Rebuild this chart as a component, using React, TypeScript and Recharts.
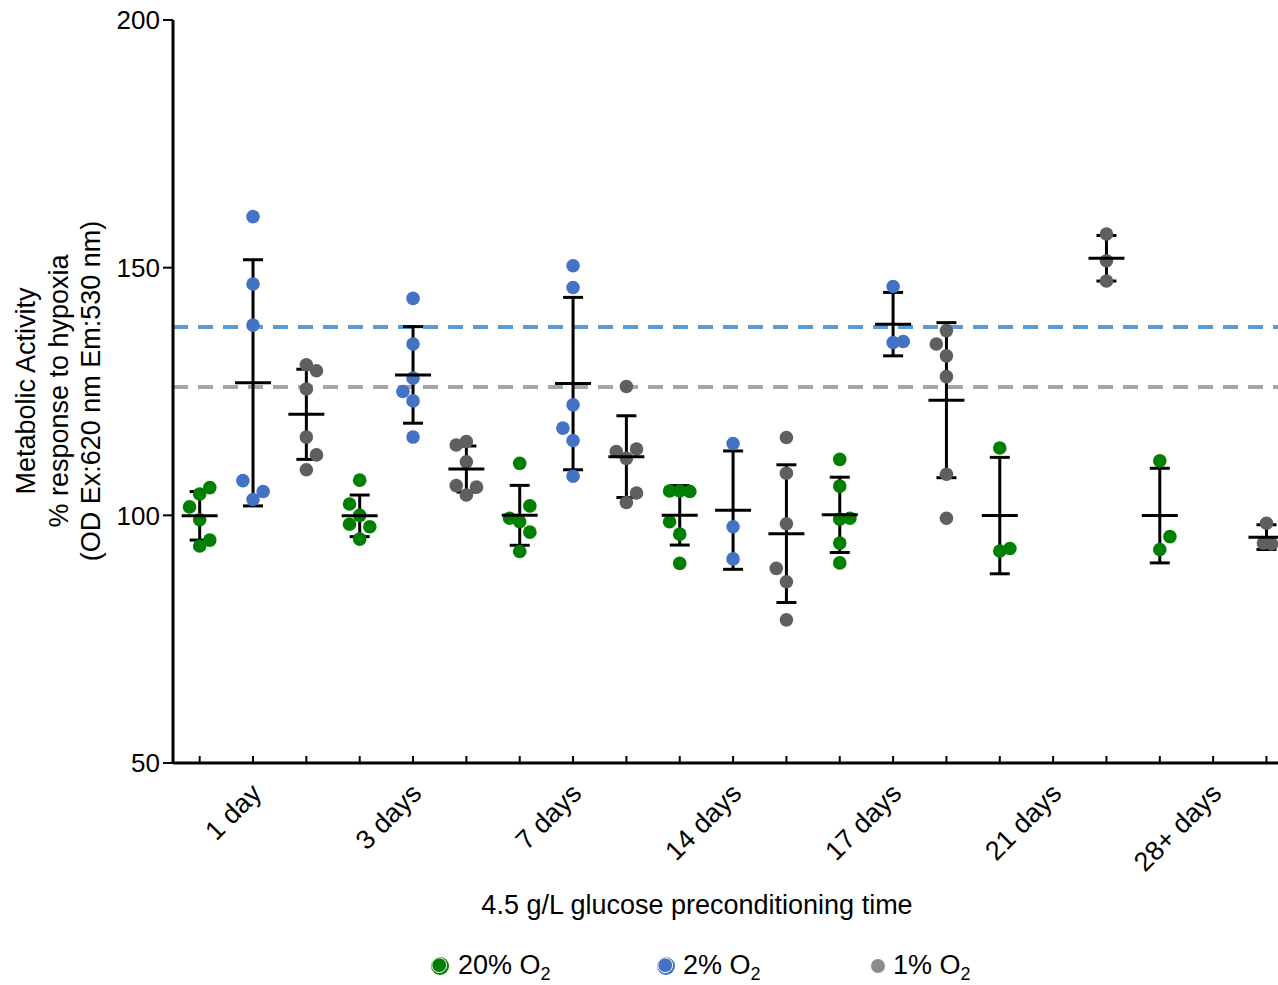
import React from "react";
import {
  ComposedChart,
  Scatter,
  XAxis,
  YAxis,
  ErrorBar,
  ReferenceLine,
  Legend,
  Label,
} from "recharts";

const FONT = "'Liberation Sans', Arial, sans-serif";

const days = ["1 day", "3 days", "7 days", "14 days", "17 days", "21 days", "28+ days"];
const o2Labels = ["20%", "2%", "1%"];
const yTicks = [50, 100, 150, 200];
const slots = Array.from({ length: 21 }, (_, i) => i + 1);

// [day index, swarm column (-1 left, 0 centre, 1 right), value]
const pts20: [number, number, number][] = [
  [0, 0, 104.3], [0, 1, 105.6], [0, -1, 101.7], [0, 0, 99.1], [0, 1, 95.0], [0, 0, 93.8],
  [1, 0, 107.1], [1, -1, 102.3], [1, 0, 100.0], [1, -1, 98.2], [1, 1, 97.7], [1, 0, 95.2],
  [2, 0, 110.5], [2, 1, 101.9], [2, -1, 99.4], [2, 0, 98.7], [2, 1, 96.6], [2, 0, 92.7],
  [3, -1, 104.9], [3, 0, 104.9], [3, 1, 104.8], [3, -1, 98.7], [3, 0, 96.2], [3, 0, 90.3],
  [4, 0, 111.3], [4, 0, 105.9], [4, 0, 99.2], [4, 1, 99.4], [4, 0, 94.4], [4, 0, 90.4],
  [5, 0, 113.6], [5, 0, 92.8], [5, 1, 93.3],
  [6, 0, 111.0], [6, 1, 95.7], [6, 0, 93.1],
];

const pts2: [number, number, number][] = [
  [0, 0, 160.3], [0, 0, 146.7], [0, 0, 138.4], [0, -1, 107.0], [0, 1, 104.8], [0, 0, 103.2],
  [1, 0, 143.8], [1, 0, 134.6], [1, 0, 127.7], [1, -1, 125.0], [1, 0, 123.1], [1, 0, 115.8],
  [2, 0, 150.4], [2, 0, 146.0], [2, 0, 122.3], [2, -1, 117.6], [2, 0, 115.1], [2, 0, 107.9],
  [3, 0, 114.5], [3, 0, 97.7], [3, 0, 91.2],
  [4, 0, 146.2], [4, 0, 134.9], [4, 1, 135.1],
];

const pts1: [number, number, number][] = [
  [0, 0, 130.4], [0, 1, 129.2], [0, 0, 125.5], [0, 0, 115.8], [0, 1, 112.2], [0, 0, 109.2],
  [1, -1, 114.2], [1, 0, 114.9], [1, 0, 110.8], [1, -1, 106.0], [1, 1, 105.7], [1, 0, 104.1],
  [2, 0, 126.0], [2, -1, 112.9], [2, 1, 113.4], [2, 0, 111.5], [2, 1, 104.5], [2, 0, 102.6],
  [3, 0, 115.7], [3, 0, 108.5], [3, 0, 98.3], [3, -1, 89.3], [3, 0, 86.6], [3, 0, 78.9],
  [4, 0, 137.3], [4, -1, 134.6], [4, 0, 132.2], [4, 0, 128.0], [4, 0, 108.3], [4, 0, 99.4],
  [5, 0, 156.8], [5, 0, 151.4], [5, 0, 147.3],
  [6, 0, 98.4], [6, -0.3, 94.4], [6, 0.5, 94.2],
];

// mean and SD per day (null = not measured)
const mean20 = [99.9, 99.9, 100.0, 100.0, 100.1, 99.95, 99.95];
const sd20 = [4.9, 4.2, 6.05, 6.0, 7.6, 11.75, 9.55];
const mean2 = [126.75, 128.35, 126.6, 101.05, 138.6, null, null];
const sd2 = [24.85, 9.75, 17.4, 11.95, 6.4, null, null];
const mean1 = [120.4, 109.35, 111.85, 96.3, 123.25, 151.9, 95.6];
const sd1 = [9.1, 4.65, 8.25, 13.9, 15.65, 4.6, 2.5];

const ref2 = 138.0;
const ref1 = 125.9;

const GREEN = "#008000";
const BLUE = "#4472c4";
const GRAY = "#5f5f5f";

const SPREAD = 0.19;

const toXY = (pts: [number, number, number][], series: number) =>
  pts.map(([d, col, v]) => ({ x: d * 3 + series + col * SPREAD, y: v }));

const toMeans = (means: (number | null)[], sds: (number | null)[], series: number) =>
  means
    .map((m, i) => (m == null ? null : { x: i * 3 + series, y: m, sd: sds[i] }))
    .filter(Boolean) as { x: number; y: number; sd: number }[];

const meanData = [...toMeans(mean20, sd20, 1), ...toMeans(mean2, sd2, 2), ...toMeans(mean1, sd1, 3)];

const dot = (color: string) => (p: any) => <circle cx={p.cx} cy={p.cy} r={6.8} fill={color} />;

const MeanMark = (p: any) => (
  <line x1={p.cx - 18} x2={p.cx + 18} y1={p.cy} y2={p.cy} stroke="#000" strokeWidth={3} />
);

function SlotTick(props: any) {
  const { x, y, payload } = props;
  const slot = payload.value;
  const label = slot % 3 === 2 ? days[(slot - 2) / 3] : null;
  const tx = x + 10;
  const ty = y + 32;
  return (
    <g>
      <line x1={x} x2={x} y1={y} y2={y - 7} stroke="#000" strokeWidth={2} />
      {label && (
        <text
          x={tx}
          y={ty}
          transform={`rotate(-45 ${tx} ${ty})`}
          textAnchor="end"
          fontSize={27}
          fontFamily={FONT}
          fill="#000"
        >
          {label}
        </text>
      )}
    </g>
  );
}

function YTitle() {
  const lines = [
    "Metabolic Activity",
    "% response to hypoxia",
    "(OD Ex:620 nm Em:530 nm)",
  ];
  const xs = [35, 67.5, 100];
  return (
    <g>
      {lines.map((t, i) => (
        <text
          key={t}
          x={xs[i]}
          y={391}
          transform={`rotate(-90 ${xs[i]} 391)`}
          textAnchor="middle"
          fontSize={27}
          fontFamily={FONT}
          fill="#000"
        >
          {t}
        </text>
      ))}
    </g>
  );
}

function XTitle() {
  return (
    <text x={697} y={914} textAnchor="middle" fontSize={27} fontFamily={FONT} fill="#000">
      4.5 g/L glucose preconditioning time
    </text>
  );
}

function LegendBox() {
  const items = [
    { label: o2Labels[0], color: GREEN, cx: 440, tx: 458, r: 9, ring: true },
    { label: o2Labels[1], color: BLUE, cx: 666, tx: 683, r: 9, ring: true },
    { label: o2Labels[2], color: "#8c8c8c", cx: 878, tx: 893, r: 7, ring: false },
  ];
  return (
    <div style={{ position: "relative", width: 1278, height: 45, fontFamily: FONT, fontSize: 27, color: "#000" }}>
      {items.map((it) => (
        <React.Fragment key={it.label}>
          <svg
            width={20}
            height={20}
            style={{ position: "absolute", left: it.cx - 10, top: 16 }}
          >
            <circle cx={10} cy={10} r={it.r} fill={it.color} />
            {it.ring && <circle cx={9.2} cy={9.2} r={7.4} fill={it.color} stroke="#fff" strokeWidth={1} />}
          </svg>
          <span style={{ position: "absolute", left: it.tx, top: 10, lineHeight: "30px", whiteSpace: "nowrap" }}>
            {it.label} O<span style={{ fontSize: 18, verticalAlign: -6 }}>2</span>
          </span>
        </React.Fragment>
      ))}
    </div>
  );
}

export default function App() {
  return (
    <div
      style={{
        position: "absolute",
        left: 0,
        top: 0,
        width: 1278,
        height: 985,
        overflow: "hidden",
        background: "#fff",
        fontFamily: FONT,
      }}
    >
      <ComposedChart width={1278} height={985} margin={{ top: 20, right: 0, bottom: 77, left: 93 }}>
        <XAxis
          type="number"
          dataKey="x"
          domain={[0.5, 21.216]}
          allowDataOverflow
          ticks={slots}
          interval={0}
          tickSize={0}
          tickMargin={0}
          tickLine={false}
          axisLine={{ stroke: "#000", strokeWidth: 3 }}
          height={100}
          tick={<SlotTick />}
          label={<Label content={<XTitle />} />}
        />
        <YAxis
          type="number"
          dataKey="y"
          domain={[50, 200]}
          ticks={yTicks}
          interval={0}
          width={80}
          tickSize={10}
          tickMargin={3}
          axisLine={{ stroke: "#000", strokeWidth: 3 }}
          tickLine={{ stroke: "#000", strokeWidth: 2 }}
          tick={{ fill: "#000", fontSize: 26, fontFamily: FONT }}
          label={<Label content={<YTitle />} />}
        />
        <Legend
          content={<LegendBox />}
          wrapperStyle={{ position: "absolute", top: 940, left: 0, width: 1278, height: 45 }}
        />
        <Scatter name="20% O2" data={toXY(pts20, 1)} shape={dot(GREEN)} isAnimationActive={false} />
        <Scatter name="2% O2" data={toXY(pts2, 2)} shape={dot(BLUE)} isAnimationActive={false} />
        <Scatter name="1% O2" data={toXY(pts1, 3)} shape={dot(GRAY)} isAnimationActive={false} />
        <ReferenceLine y={ref2} stroke="#5b9bd5" strokeWidth={4} strokeDasharray="15 10" />
        <ReferenceLine y={ref1} stroke="#a6a6a6" strokeWidth={4} strokeDasharray="15 10" />
        <Scatter data={meanData} shape={MeanMark} isAnimationActive={false} legendType="none">
          <ErrorBar dataKey="sd" direction="y" width={10} stroke="#000" strokeWidth={3} />
        </Scatter>
      </ComposedChart>
    </div>
  );
}
